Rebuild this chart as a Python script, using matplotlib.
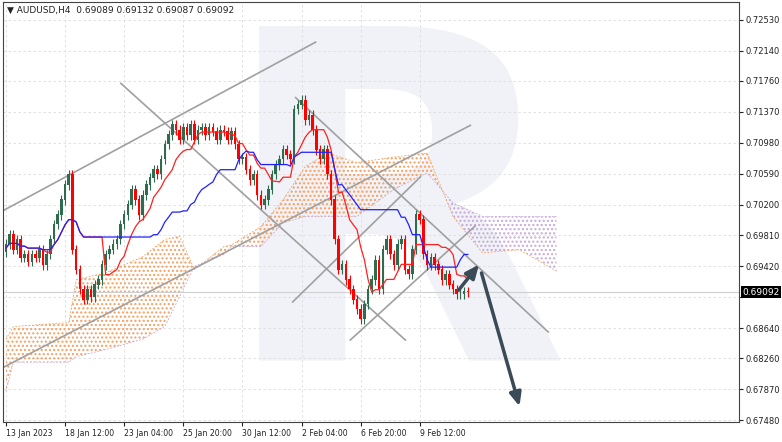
import matplotlib.pyplot as plt
import numpy as np
import pandas as pd

# AUDUSD H4 closes
closes = [0.6970, 0.6982, 0.6963, 0.6976, 0.6953, 0.6957,
          0.6948, 0.6957, 0.6953, 0.6963, 0.6944, 0.6957,
          0.6976, 0.6995, 0.7007, 0.7026, 0.7045, 0.7058,
          0.6963, 0.6938, 0.6913, 0.6900, 0.6913, 0.6903,
          0.6919, 0.6925, 0.6944, 0.6957, 0.6963, 0.6970,
          0.6976, 0.6995, 0.7007, 0.7020, 0.7039, 0.7026,
          0.7007, 0.7032, 0.7045, 0.7054, 0.7064, 0.7058,
          0.7077, 0.7096, 0.7108, 0.7121, 0.7114, 0.7102,
          0.7117, 0.7108, 0.7121, 0.7102, 0.7114, 0.7117,
          0.7108, 0.7117, 0.7112, 0.7102, 0.7114, 0.7112,
          0.7102, 0.7112, 0.7096, 0.7077, 0.7079, 0.7064,
          0.7051, 0.7058, 0.7032, 0.7020, 0.7026, 0.7039,
          0.7058, 0.7070, 0.7077, 0.7089, 0.7083, 0.7077,
          0.7140, 0.7146, 0.7152, 0.7127, 0.7133, 0.7114,
          0.7089, 0.7077, 0.7089, 0.7058, 0.7026, 0.6976,
          0.6938, 0.6944, 0.6925, 0.6913, 0.6900, 0.6888,
          0.6875, 0.6894, 0.6913, 0.6925, 0.6950, 0.6913,
          0.6963, 0.6976, 0.6957, 0.6944, 0.6970, 0.6976,
          0.6938, 0.6932, 0.6963, 0.7007, 0.7001, 0.6957,
          0.6944, 0.6953, 0.6944, 0.6938, 0.6925, 0.6932,
          0.6919, 0.6913, 0.6907, 0.6907, 0.6910, 0.69092]
first_open = 0.6960
wick = 0.0006

# Ichimoku cloud boundaries
cloud_bars = [0, 2, 17, 19, 27, 37, 43, 47, 51, 59, 61, 69, 75, 81, 87,
              95, 105, 114, 121, 129, 139, 149]
span_a = [0.6850, 0.6866, 0.6871, 0.6925, 0.6934, 0.6954, 0.6976, 0.6980,
          0.6938, 0.6967, 0.6969, 0.6992, 0.7026, 0.7068, 0.7085, 0.7073,
          0.7080, 0.7085, 0.7005, 0.6959, 0.6963, 0.6936]
span_b = [0.6784, 0.6821, 0.6821, 0.6828, 0.6837, 0.6850, 0.6866, 0.6904,
          0.6942, 0.6957, 0.6967, 0.6967, 0.6997, 0.7005, 0.7005, 0.7005,
          0.7039, 0.7060, 0.7022, 0.7005, 0.7005, 0.7005]

yticks = [0.72530, 0.72140, 0.71760, 0.71370, 0.70980, 0.70590, 0.70200,
          0.69810, 0.69420, 0.69030, 0.68640, 0.68260, 0.67870, 0.67480]
date_pos = [0, 16, 32, 48, 64, 80, 96, 112]
date_labels = ['13 Jan 2023', '18 Jan 12:00', '23 Jan 04:00', '25 Jan 20:00',
               '30 Jan 12:00', '2 Feb 04:00', '6 Feb 20:00', '9 Feb 12:00']

# trend lines: (bar0, price0, bar1, price1)
lines = [(-0.5, 0.7013, 83.8, 0.7225),
         (-0.5, 0.6815, 125.7, 0.7120),
         (31.1, 0.7173, 108.1, 0.6849),
         (78.4, 0.7155, 146.8, 0.6859),
         (77.6, 0.6897, 112.2, 0.7055),
         (93.2, 0.6849, 127.0, 0.6993)]
arrow1 = (122.0, 0.6909, 128.5, 0.6947)
arrow2 = (128.5, 0.6937, 139.2, 0.6762)

c = np.array(closes)
o = np.concatenate([[first_open], c[:-1]])
h = np.maximum(o, c) + wick
l = np.minimum(o, c) - wick
n = len(c)
x = np.arange(n)

hs, ls = pd.Series(h), pd.Series(l)
tenkan = (hs.rolling(9, min_periods=1).max() + ls.rolling(9, min_periods=1).min()) / 2
kijun = (hs.rolling(26, min_periods=1).max() + ls.rolling(26, min_periods=1).min()) / 2

fig = plt.figure(figsize=(7.82, 4.42), dpi=100)
ax = fig.add_axes([3 / 782, 20 / 442, 736 / 782, 420 / 442])
ax.set_xlim(-0.8, 198.4)
ax.set_ylim(0.67455, 0.72757)

ax.text(0.53, 0.45, 'R', transform=ax.transAxes, fontsize=330, fontweight='bold',
        color='#f0f2f7', ha='center', va='center', zorder=0, clip_on=True)

sa, sb = np.array(span_a), np.array(span_b)
ax.fill_between(cloud_bars, sa, sb, where=sa >= sb, interpolate=True,
                facecolor='none', edgecolor='#f5a060', hatch='....', linewidth=0, zorder=1)
ax.fill_between(cloud_bars, sa, sb, where=sa < sb, interpolate=True,
                facecolor='none', edgecolor='#c8a8d8', hatch='....', linewidth=0, zorder=1)
ax.plot(cloud_bars, sa, color='#f5a060', lw=0.6, ls=(0, (2, 2)), zorder=1)
ax.plot(cloud_bars, sb, color='#c8a8d8', lw=0.6, ls=(0, (2, 2)), zorder=1)

for b0, p0, b1, p1 in lines:
    ax.plot([b0, b1], [p0, p1], color='#a0a0a0', lw=1.2, zorder=2)

up = c >= o
col = np.where(up, '#2f6b4f', '#ff0000')
ax.vlines(x, l, h, colors=col, lw=0.8, zorder=3)
ax.bar(x, np.abs(c - o) + 0.00005, bottom=np.minimum(o, c), width=0.7, color=col, zorder=3)

ax.plot(x, tenkan, color='#ff2020', lw=0.9, zorder=4)
ax.plot(x, kijun, color='#2020ff', lw=0.9, zorder=4)

ax.axhline(closes[-1], color='#d0d0d0', lw=0.8, zorder=1)

for a in (arrow1, arrow2):
    ax.annotate('', xy=(a[2], a[3]), xytext=(a[0], a[1]),
                arrowprops=dict(arrowstyle='-|>,head_width=0.35,head_length=0.8',
                                color='#3a4a56', lw=2.5), zorder=5)

ax.set_yticks(yticks)
ax.set_yticklabels(['' if t == 0.69030 else f'{t:.5f}' for t in yticks])
ax.yaxis.tick_right()
ax.set_xticks(date_pos)
ax.set_xticklabels(date_labels, ha='left')
ax.tick_params(labelsize=6, length=3, pad=2, colors='#222222')
ax.tick_params(axis='x', labelsize=5.6)
ax.grid(True, color='#dcdcdc', ls=(0, (3, 3)), lw=0.6)
ax.set_axisbelow(True)
for s in ax.spines.values():
    s.set_color('#444444')
    s.set_linewidth(0.8)

ax.text(0.005, 0.99, '▼ AUDUSD,H4  0.69089 0.69132 0.69087 0.69092',
        transform=ax.transAxes, fontsize=6.5, va='top', ha='left', color='#222222')
ax.text(1.005, closes[-1], '0.69092', transform=ax.get_yaxis_transform(),
        fontsize=6.5, color='white', va='center', ha='left', zorder=6,
        bbox=dict(boxstyle='square,pad=0.15', facecolor='black', edgecolor='none'))

fig.savefig('out.png', dpi=100)
